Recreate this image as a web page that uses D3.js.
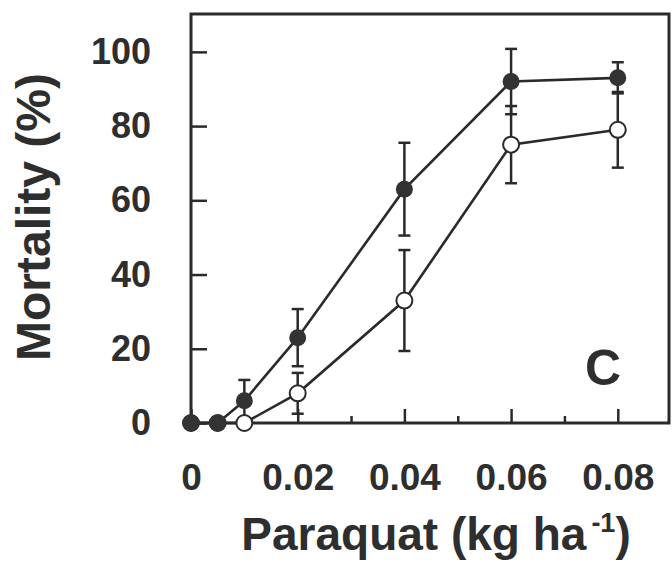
<!DOCTYPE html>
<html>
<head>
<meta charset="utf-8">
<script src="https://cdn.jsdelivr.net/npm/d3@7"></script>
<style>
  body { margin: 0; background: #fff; }
  svg text { font-family: "Liberation Sans", Arial, Helvetica, sans-serif; font-weight: bold; fill: #2e2e2e; }
</style>
</head>
<body>
<div id="chart"></div>
<script>
// paraquat dose (kg/ha)
var doses = [0, 0.005, 0.01, 0.02, 0.04, 0.06, 0.08];
// filled circles
var filledMean = [0, 0, 6, 23, 63, 92, 93];
var filledErr = [0, 0, 5.6, 7.7, 12.5, 8.8, 4.2];
// open circles
var openMean = [0, 0, 0, 8, 33, 75, 79];
var openErr = [0, 0, 0, 5.5, 13.6, 10.4, 10.2];

var yTicks = [0, 20, 40, 60, 80, 100];
var xMajor = [0, 0.02, 0.04, 0.06, 0.08];
var xMinor = [0.03, 0.05, 0.07];

var W = 672, H = 563;
var plotLeft = 191, plotRight = 669, plotTop = 14, plotBottom = 423;
var ink = "#2a2a2a";

var svg = d3.select("#chart")
    .append("svg")
    .attr("width", W)
    .attr("height", H);

var x = d3.scaleLinear().domain([0, 0.0896]).range([plotLeft, plotRight]);
var y = d3.scaleLinear().domain([0, 110.2]).range([plotBottom, plotTop]);

// y axis, ticks pointing inwards
var yAxis = svg.append("g")
    .attr("transform", "translate(" + plotLeft + ",0)")
    .call(d3.axisLeft(y).tickValues(yTicks).tickSize(-16).tickPadding(40).tickFormat(d3.format("d")));
yAxis.select(".domain").remove();
yAxis.selectAll("line").attr("stroke", ink).attr("stroke-width", 2.5);
yAxis.selectAll("text").style("font-size", "36px");

// x axis, major and minor ticks
var xAxis = svg.append("g")
    .attr("transform", "translate(0," + plotBottom + ")")
    .call(d3.axisBottom(x).tickValues(xMajor).tickSize(-14).tickPadding(41)
        .tickFormat(function (d) { return d === 0 ? "0" : d3.format(".2f")(d); }));
xAxis.select(".domain").remove();
xAxis.selectAll("line").attr("stroke", ink).attr("stroke-width", 2.5);
xAxis.selectAll("text").style("font-size", "37px");

var xMinorAxis = svg.append("g")
    .attr("transform", "translate(0," + plotBottom + ")")
    .call(d3.axisBottom(x).tickValues(xMinor).tickSize(-7).tickFormat(""));
xMinorAxis.select(".domain").remove();
xMinorAxis.selectAll("line").attr("stroke", ink).attr("stroke-width", 2.5);

// frame
svg.append("rect")
    .attr("x", plotLeft)
    .attr("y", plotTop)
    .attr("width", plotRight - plotLeft)
    .attr("height", plotBottom - plotTop)
    .attr("fill", "none")
    .attr("stroke", ink)
    .attr("stroke-width", 3);

var line = d3.line()
    .x(function (d) { return x(d.dose); })
    .y(function (d) { return y(d.mean); });

function rows(means, errs) {
    return doses.map(function (d, i) {
        return {dose: d, mean: means[i], err: errs[i]};
    });
}

var openRows = rows(openMean, openErr);
var filledRows = rows(filledMean, filledErr);

// error bars
function drawErrors(data) {
    var g = svg.append("g");
    var eb = data.filter(function (d) { return d.err > 0; });
    g.selectAll(".stem")
        .data(eb)
        .enter()
        .append("line")
        .attr("x1", function (d) { return x(d.dose); })
        .attr("x2", function (d) { return x(d.dose); })
        .attr("y1", function (d) { return y(Math.max(0, d.mean - d.err)); })
        .attr("y2", function (d) { return y(d.mean + d.err); })
        .attr("stroke", ink)
        .attr("stroke-width", 2.5);
    ["upper", "lower"].forEach(function (side) {
        g.selectAll(".cap-" + side)
            .data(eb.filter(function (d) { return side === "upper" || d.mean - d.err > 0; }))
            .enter()
            .append("line")
            .attr("x1", function (d) { return x(d.dose) - 6; })
            .attr("x2", function (d) { return x(d.dose) + 6; })
            .attr("y1", function (d) { return y(side === "upper" ? d.mean + d.err : d.mean - d.err); })
            .attr("y2", function (d) { return y(side === "upper" ? d.mean + d.err : d.mean - d.err); })
            .attr("stroke", ink)
            .attr("stroke-width", 2.5);
    });
}
drawErrors(openRows);
drawErrors(filledRows);

// lines
svg.append("path")
    .datum(openRows)
    .attr("d", line)
    .attr("fill", "none")
    .attr("stroke", ink)
    .attr("stroke-width", 2.6);
svg.append("path")
    .datum(filledRows)
    .attr("d", line)
    .attr("fill", "none")
    .attr("stroke", ink)
    .attr("stroke-width", 2.6);

// markers
svg.selectAll(".open")
    .data(openRows)
    .enter()
    .append("circle")
    .attr("cx", function (d) { return x(d.dose); })
    .attr("cy", function (d) { return y(d.mean); })
    .attr("r", 8)
    .attr("fill", "#fff")
    .attr("stroke", ink)
    .attr("stroke-width", 2);
svg.selectAll(".filled")
    .data(filledRows)
    .enter()
    .append("circle")
    .attr("cx", function (d) { return x(d.dose); })
    .attr("cy", function (d) { return y(d.mean); })
    .attr("r", 8.5)
    .attr("fill", "#333");

// panel letter
svg.append("text")
    .attr("x", 603)
    .attr("y", 385)
    .attr("text-anchor", "middle")
    .style("font-size", "50px")
    .text("C");

// axis titles
var xt = svg.append("text")
    .attr("x", 436)
    .attr("y", 550)
    .attr("text-anchor", "middle")
    .style("font-size", "46px");
xt.append("tspan").text("Paraquat (kg ha");
xt.append("tspan").attr("dx", 5).attr("dy", -18).style("font-size", "27px").text("-1");
xt.append("tspan").attr("dy", 18).text(")");

svg.append("text")
    .attr("transform", "translate(50,217) rotate(-90)")
    .attr("text-anchor", "middle")
    .style("font-size", "48px")
    .text("Mortality (%)");
</script>
</body>
</html>
